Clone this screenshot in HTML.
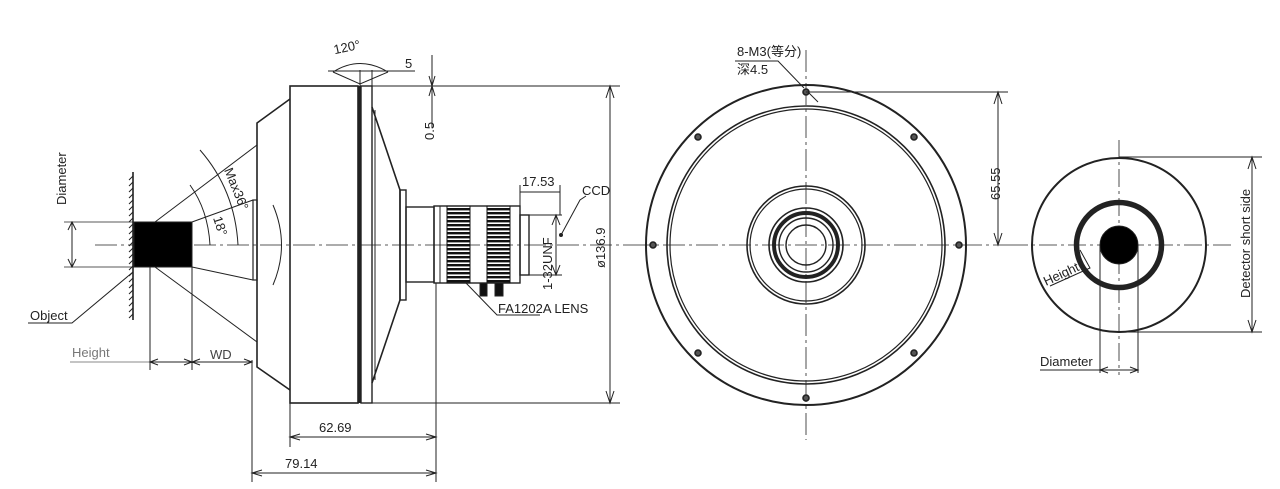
<!DOCTYPE html>
<html><head><meta charset="utf-8"><style>
html,body{margin:0;padding:0;background:#fff;}
svg{display:block;}
text{font-family:"Liberation Sans","Noto Sans CJK SC",sans-serif;font-size:13px;fill:#222;}
</style></head><body>
<svg width="1280" height="489" viewBox="0 0 1280 489" xmlns="http://www.w3.org/2000/svg">
<defs>
<pattern id="kn" width="23" height="4" patternUnits="userSpaceOnUse"><rect width="23" height="2.4" fill="#111"/></pattern>
</defs>
<g stroke="#222" fill="none" stroke-width="1">
<line x1="95" y1="245" x2="630" y2="245" stroke-dasharray="22,4,3,4" stroke-width="0.8"/>
<rect x="290" y="86" width="68" height="317" stroke-width="1.6"/>
<line x1="359.5" y1="86" x2="359.5" y2="403" stroke-width="3.5"/>
<rect x="361" y="86" width="11" height="317" stroke-width="1.4"/>
<polyline points="290,99 257,123 257,367 290,390" stroke-width="1.6"/>
<rect x="253" y="200" width="4" height="80" stroke-width="1.2"/>
<path d="M273,205 Q290,245 273,285" stroke-width="1"/>
<polyline points="372,107 400,190 400,300 372,383" stroke-width="1.6"/>
<line x1="375" y1="110" x2="375" y2="380"/>
<rect x="400" y="190" width="6" height="110" stroke-width="1.4"/>
<rect x="406" y="207" width="28" height="75" stroke-width="1.4"/>
<rect x="434" y="206" width="86" height="77" stroke-width="1.4"/>
<line x1="440" y1="206" x2="440" y2="283"/>
<rect x="447" y="206" width="23" height="77" fill="url(#kn)" stroke="#111"/>
<rect x="487" y="206" width="23" height="77" fill="url(#kn)" stroke="#111"/>
<rect x="520" y="215" width="9" height="60" stroke-width="1.4"/>
<rect x="480" y="283" width="7" height="13" fill="#111"/>
<rect x="495" y="283" width="8" height="13" fill="#111"/>
<line x1="133" y1="172" x2="133" y2="320" stroke-width="1.6"/>
<path d="M133,176 l-4,4 M133,182 l-4,4 M133,188 l-4,4 M133,194 l-4,4 M133,200 l-4,4 M133,206 l-4,4 M133,212 l-4,4 M133,218 l-4,4 M133,224 l-4,4 M133,230 l-4,4 M133,236 l-4,4 M133,242 l-4,4 M133,248 l-4,4 M133,254 l-4,4 M133,260 l-4,4 M133,266 l-4,4 M133,272 l-4,4 M133,278 l-4,4 M133,284 l-4,4 M133,290 l-4,4 M133,296 l-4,4 M133,302 l-4,4 M133,308 l-4,4 M133,314 l-4,4"/>
<rect x="134" y="222" width="58" height="45" fill="#000"/>
<line x1="155" y1="222" x2="257" y2="145"/>
<line x1="192" y1="222" x2="253" y2="200"/>
<line x1="192" y1="267" x2="253" y2="280"/>
<line x1="155" y1="267" x2="257" y2="342"/>
<path d="M200,150 Q235,190 238,245"/>
<path d="M190,185 Q208,210 210,245"/>
<line x1="64" y1="222" x2="134" y2="222" stroke-width="0.8"/>
<line x1="64" y1="267" x2="134" y2="267" stroke-width="0.8"/>
<line x1="72" y1="222" x2="72" y2="267"/>
<path d="M68,230 L72,222 L76,230 M68,259 L72,267 L76,259"/>
<path d="M133,272 L72,323 L28,323"/>
<line x1="70" y1="362" x2="150" y2="362" stroke="#888"/>
<line x1="150" y1="267" x2="150" y2="370"/>
<line x1="192" y1="267" x2="192" y2="370"/>
<line x1="150" y1="362" x2="252" y2="362"/>
<path d="M158,359 L150,362 L158,365 M184,359 L192,362 L184,365 M200,359 L192,362 L200,365 M244,359 L252,362 L244,365"/>
<line x1="252" y1="360" x2="252" y2="482"/>
<line x1="290" y1="403" x2="290" y2="447"/>
<line x1="436" y1="283" x2="436" y2="482"/>
<line x1="290" y1="437" x2="436" y2="437"/>
<path d="M300,434 L290,437 L300,440 M426,434 L436,437 L426,440"/>
<line x1="252" y1="473" x2="436" y2="473"/>
<path d="M262,470 L252,473 L262,476 M426,470 L436,473 L426,476"/>
<line x1="372" y1="86" x2="620" y2="86"/>
<line x1="372" y1="403" x2="620" y2="403"/>
<line x1="610" y1="86" x2="610" y2="403"/>
<path d="M606,98 L610,86 L614,98 M606,391 L610,403 L614,391"/>
<path d="M333,72 Q360,55 388,72"/>
<path d="M333,72 L360,84 L388,72" />
<line x1="328" y1="71" x2="415" y2="71"/>
<line x1="360" y1="70" x2="360" y2="86"/>
<line x1="372" y1="70" x2="372" y2="86"/>
<line x1="432" y1="55" x2="432" y2="128"/>
<path d="M429,76 L432,86 L435,76 M429,96 L432,86 L435,96"/>
<line x1="520" y1="185" x2="520" y2="206"/>
<line x1="560" y1="185" x2="560" y2="215"/>
<line x1="520" y1="192" x2="560" y2="192"/>
<line x1="529" y1="215" x2="562" y2="215"/>
<line x1="529" y1="275" x2="562" y2="275"/>
<line x1="556" y1="215" x2="556" y2="275"/>
<path d="M552,225 L556,215 L560,225 M552,265 L556,275 L560,265"/>
<path d="M561,235 L580,200 L586,196"/>
<circle cx="561" cy="235" r="1.5" fill="#222"/>
<path d="M466,283 L497,315 L540,315"/>
<line x1="806" y1="50" x2="806" y2="440" stroke-dasharray="22,4,3,4" stroke-width="0.8"/>
<line x1="630" y1="245" x2="1010" y2="245" stroke-dasharray="22,4,3,4" stroke-width="0.8"/>
<circle cx="806" cy="245" r="160" stroke-width="2"/>
<circle cx="806" cy="245" r="139" stroke-width="1.6"/>
<circle cx="806" cy="245" r="136" stroke-width="1.2"/>
<circle cx="806" cy="245" r="59" stroke-width="1.6"/>
<circle cx="806" cy="245" r="56" stroke-width="1.2"/>
<circle cx="806" cy="245" r="37" stroke-width="1.6"/>
<circle cx="806" cy="245" r="32" stroke-width="4"/>
<circle cx="806" cy="245" r="27" stroke-width="1.4"/>
<circle cx="806" cy="245" r="20" stroke-width="1.4"/>
<g fill="#555" stroke-width="1.6">
<circle cx="806" cy="92" r="3"/><circle cx="806" cy="398" r="3"/>
<circle cx="653" cy="245" r="3"/><circle cx="959" cy="245" r="3"/>
<circle cx="698" cy="137" r="3"/><circle cx="914" cy="137" r="3"/>
<circle cx="698" cy="353" r="3"/><circle cx="914" cy="353" r="3"/>
</g>
<path d="M735,61 L778,61 L804,88"/>
<line x1="808" y1="92" x2="818" y2="102"/>
<line x1="806" y1="92" x2="1008" y2="92"/>
<line x1="998" y1="92" x2="998" y2="245"/>
<path d="M994,104 L998,92 L1002,104 M994,233 L998,245 L1002,233"/>
<line x1="1119" y1="140" x2="1119" y2="375" stroke-dasharray="18,4,3,4" stroke-width="0.8"/>
<line x1="1010" y1="245" x2="1232" y2="245" stroke-dasharray="18,4,3,4" stroke-width="0.8"/>
<circle cx="1119" cy="245" r="87" stroke-width="2"/>
<circle cx="1119" cy="245" r="42.5" stroke-width="5.5"/>
<circle cx="1119" cy="245" r="19" fill="#000"/>
<line x1="1119" y1="157" x2="1262" y2="157"/>
<line x1="1119" y1="332" x2="1262" y2="332"/>
<line x1="1252" y1="157" x2="1252" y2="332"/>
<path d="M1248,169 L1252,157 L1256,169 M1248,320 L1252,332 L1256,320"/>
<line x1="1100" y1="245" x2="1100" y2="373"/>
<line x1="1138" y1="245" x2="1138" y2="373"/>
<line x1="1040" y1="370" x2="1138" y2="370"/>
<path d="M1108,367 L1100,370 L1108,373 M1130,367 L1138,370 L1130,373"/>
<path d="M1080,250 L1090,268 L1050,286"/>
</g>
<text x="0" y="0" transform="translate(66,205) rotate(-90)" font-size="14">Diameter</text>
<text x="30" y="320" font-size="12">Object</text>
<text x="72" y="357" font-size="15" style="fill:#777">Height</text>
<text x="210" y="359" font-size="15" style="fill:#444">WD</text>
<text x="0" y="0" transform="translate(224,170) rotate(68)" font-size="14">Max36°</text>
<text x="0" y="0" transform="translate(213,218) rotate(72)" font-size="14">18°</text>
<text x="334" y="52" font-size="14" transform="rotate(-12 345 50)">120°</text>
<text x="405" y="68" font-size="15">5</text>
<text x="0" y="0" transform="translate(434,140) rotate(-90)" font-size="14">0.5</text>
<text x="522" y="186" font-size="14">17.53</text>
<text x="582" y="195" font-size="14">CCD</text>
<text x="0" y="0" transform="translate(552,290) rotate(-90)" font-size="14">1-32UNF</text>
<text x="0" y="0" transform="translate(605,268) rotate(-90)" font-size="15">ø136.9</text>
<text x="498" y="313" font-size="14">FA1202A  LENS</text>
<text x="319" y="432" font-size="15">62.69</text>
<text x="285" y="468" font-size="15">79.14</text>
<text x="737" y="56" font-size="13">8-M3(等分)</text>
<text x="737" y="74" font-size="13">深4.5</text>
<text x="0" y="0" transform="translate(1000,200) rotate(-90)" font-size="15">65.55</text>
<text x="0" y="0" transform="translate(1250,298) rotate(-90)" font-size="13">Detector short side</text>
<text x="0" y="0" transform="translate(1046,286) rotate(-25)" font-size="12">Height</text>
<text x="1040" y="366" font-size="12">Diameter</text>
</svg>
</body></html>
